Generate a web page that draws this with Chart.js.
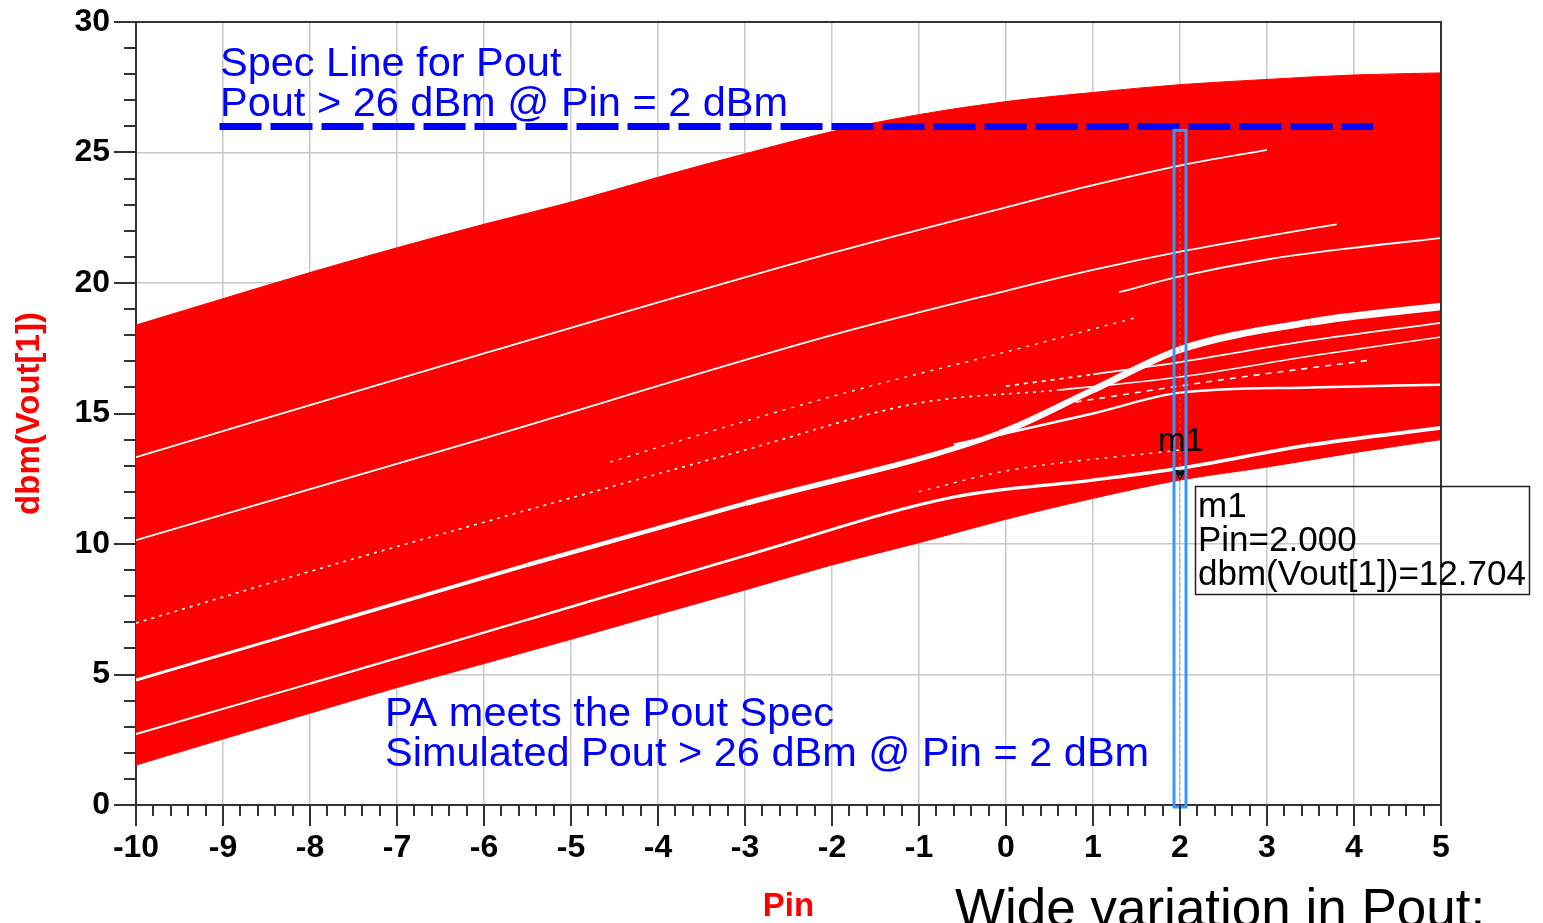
<!DOCTYPE html>
<html>
<head>
<meta charset="utf-8">
<script src="https://cdn.jsdelivr.net/npm/chart.js@4.4.1/dist/chart.umd.min.js"></script>
<style>
  html, body { margin: 0; padding: 0; background: #ffffff; }
  #wrap { position: relative; width: 1543px; height: 923px; }
</style>
</head>
<body>
<div id="wrap"><canvas id="c" width="1543" height="923"></canvas></div>
<script>
// Monte Carlo sweep of output power vs input power: envelope of all traces
const pinGrid = [-10, -9, -8, -7, -6, -5, -4, -3, -2, -1, 0, 1, 2, 3, 4, 5];
const poutMax = [18.39, 19.4, 20.4, 21.35, 22.25, 23.1, 24.05, 24.95, 25.8, 26.45, 26.95, 27.3, 27.6, 27.8, 27.97, 28.05];
const poutMin = [1.53, 2.53, 3.52, 4.5, 5.42, 6.35, 7.3, 8.24, 9.2, 10.05, 10.95, 11.75, 12.45, 12.95, 13.5, 14.0];

// Uncovered gaps between neighbouring traces, [Pin, Pout] pairs
const gapA  = [[-10, 13.33], [-6, 17.3], [-2, 21.15], [0, 22.9], [1, 23.75], [2, 24.5], [3, 25.1]];
const gapB  = [[-10, 10.15], [-6, 14.05], [-2, 18.0], [0, 19.7], [1, 20.5], [2, 21.2], [3, 21.8], [3.8, 22.25]];
const gapB2 = [[1.3, 19.65], [2, 20.25], [3, 20.9], [4, 21.35], [5, 21.72]];
const gapC  = [[-10, 6.97], [-8, 8.95], [-5.5, 11.3], [-3, 13.6], [-1, 15.4], [0.6, 15.9], [2, 16.4], [3.5, 17.2], [5, 17.93]];
const gapC3 = [[-4.55, 13.14], [-2.83, 14.87], [-1.5, 16.1], [-0.07, 17.3], [1.48, 18.66]];
const gapF  = [[0, 16.05], [1, 16.5], [2, 16.97], [3.5, 17.8], [5, 18.47]];
const gapD  = [[-10, 4.79], [-8, 6.75], [-5.5, 9.2], [-3, 11.55], [-0.07, 14.25], [1, 15.9], [2, 17.45], [3.5, 18.5], [5, 19.1]];
const gapD2 = [[-0.6, 13.8], [1, 15.0], [2, 15.8], [3.5, 16.0], [5, 16.1]];
const gapE  = [[-10, 2.72], [-8, 4.65], [-5.5, 7.1], [-3, 9.55], [-0.6, 11.8], [1, 12.45], [2, 12.9], [3.5, 13.8], [5, 14.45]];
const gapH  = [[0.8, 15.44], [2.5, 16.3], [4.2, 17.05]];
const gapK  = [[-1, 12.0], [0, 12.8], [2, 13.6]];

// Spec line and marker
const specPin = [-9.04, 4.22];
const specPout = [26, 26];
const markerPin = 2.0;
const markerPout = 12.704;

const xTickLabels = ['-10', '-9', '-8', '-7', '-6', '-5', '-4', '-3', '-2', '-1', '0', '1', '2', '3', '4', '5'];
const yTickLabels = ['0', '5', '10', '15', '20', '25', '30'];

const FONT = 'Liberation Sans, Arial, sans-serif';

function toPts(pairs) { return pairs.map(([x, y]) => ({ x, y })); }

function gapSet(pairs, width, dashBefore, dash, widthRight) {
  return {
    data: toPts(pairs),
    borderColor: '#ffffff',
    borderWidth: width,
    pointRadius: 0,
    fill: false,
    cubicInterpolationMode: 'monotone',
    order: 5,
    segment: {
      borderDash: c => (dashBefore != null && c.p1.parsed.x <= dashBefore) ? dash : undefined,
      borderWidth: c => widthRight ? width + (widthRight - width) * ((c.p0.parsed.x + 10) / 15) : width
    }
  };
}

const datasets = [
  {
    data: pinGrid.map((x, i) => ({ x, y: poutMax[i] })),
    borderColor: '#ff0000', backgroundColor: '#ff0000', borderWidth: 1,
    pointRadius: 0, fill: '+1', cubicInterpolationMode: 'monotone', order: 10
  },
  {
    data: pinGrid.map((x, i) => ({ x, y: poutMin[i] })),
    borderColor: '#ff0000', borderWidth: 1,
    pointRadius: 0, fill: false, cubicInterpolationMode: 'monotone', order: 11
  },
  gapSet(gapA, 1.8),
  gapSet(gapB, 1.8),
  gapSet(gapB2, 1.8, 1.9, [5, 4]),
  gapSet(gapC, 1.6, 0.6, [3, 5]),
  gapSet(gapC3, 1.4, 2, [3, 6]),
  gapSet(gapF, 1.8, 1.2, [4, 5]),
  gapSet(gapD, 3, null, null, 8),
  gapSet(gapD2, 2.5, 0, [4, 3]),
  gapSet(gapE, 2, null, null, 4),
  gapSet(gapH, 1.6, 5, [6, 6]),
  gapSet(gapK, 1.4, 5, [3, 6]),
  {
    data: specPin.map((x, i) => ({ x, y: specPout[i] })),
    borderColor: '#0000ff', borderWidth: 7, borderDash: [42, 9], borderCapStyle: 'butt',
    pointRadius: 0, fill: false, order: 1
  },
  {
    data: [{ x: markerPin, y: markerPout }],
    showLine: false, pointStyle: 'triangle', rotation: 180, pointRadius: 6,
    backgroundColor: '#111111', borderColor: '#111111', order: 0
  }
];

const decor = {
  id: 'decor',
  afterDatasetsDraw(chart) {
    const { ctx, chartArea: a, scales: { x, y } } = chart;
    ctx.save();
    // marker column
    const mx = x.getPixelForValue(markerPin);
    const yTop = y.getPixelForValue(specPout[0]) + 4;
    const yBot = y.getPixelForValue(0) + 2;
    ctx.strokeStyle = '#3399ff';
    ctx.lineWidth = 3;
    ctx.strokeRect(mx - 6, yTop, 12, yBot - yTop);
    ctx.setLineDash([2, 4]);
    ctx.lineWidth = 1;
    ctx.strokeStyle = '#8a9fc8';
    ctx.beginPath(); ctx.moveTo(mx, yTop + 3); ctx.lineTo(mx, yBot - 2); ctx.stroke();
    ctx.setLineDash([]);

    // plot frame: top and right
    ctx.strokeStyle = '#333333';
    ctx.lineWidth = 2;
    ctx.beginPath();
    ctx.moveTo(a.left - 22, a.top); ctx.lineTo(a.right, a.top); ctx.lineTo(a.right, a.bottom);
    ctx.stroke();

    // y ticks
    for (let v = 0; v <= 30; v++) {
      const py = Math.round(y.getPixelForValue(v));
      const len = v % 5 === 0 ? 22 : 12;
      ctx.beginPath(); ctx.moveTo(a.left - len, py); ctx.lineTo(a.left, py); ctx.stroke();
    }
    // x ticks
    for (let i = 0; i <= 75; i++) {
      const v = -10 + i * 0.2;
      const px = Math.round(x.getPixelForValue(v));
      const len = i % 5 === 0 ? 21 : 11;
      ctx.beginPath(); ctx.moveTo(px, a.bottom); ctx.lineTo(px, a.bottom + len); ctx.stroke();
    }

    // marker label
    const my = y.getPixelForValue(markerPout);
    ctx.fillStyle = '#000000';
    ctx.font = '33px ' + FONT;
    ctx.textBaseline = 'alphabetic';
    ctx.textAlign = 'center';
    ctx.fillText('m1', mx + 1, my - 22);

    // marker readout
    ctx.textAlign = 'left';
    ctx.lineWidth = 1.5;
    ctx.strokeStyle = '#222222';
    ctx.strokeRect(1195.5, 486.5, 334, 108);
    ctx.font = '35px ' + FONT;
    ctx.fillText('m1', 1198, 517);
    ctx.fillText('Pin=' + markerPin.toFixed(3), 1198, 551);
    ctx.fillText('dbm(Vout[1])=' + markerPout.toFixed(3), 1198, 585);

    // annotations
    ctx.fillStyle = '#0000ff';
    ctx.font = '41.5px ' + FONT;
    ctx.fillText('Spec Line for Pout', 220, 76);
    ctx.fillText('Pout > 26 dBm @ Pin = 2 dBm', 220, 116);
    ctx.fillText('PA meets the Pout Spec', 385, 726);
    ctx.fillText('Simulated Pout > 26 dBm @ Pin = 2 dBm', 385, 766);

    ctx.fillStyle = '#000000';
    ctx.font = '53px ' + FONT;
    ctx.fillText('Wide variation in Pout:', 955, 926);
    ctx.restore();
  }
};

new Chart(document.getElementById('c'), {
  type: 'line',
  data: { datasets },
  options: {
    responsive: false,
    animation: false,
    devicePixelRatio: 1,
    layout: { padding: { top: 22, right: 102, left: 0, bottom: 0 } },
    plugins: { legend: { display: false }, tooltip: { enabled: false } },
    scales: {
      x: {
        type: 'linear', min: -10, max: 5, position: 'bottom',
        afterFit: s => { s.height = 118; s.paddingLeft = 0; s.paddingRight = 0; },
        afterBuildTicks: s => { s.ticks = xTickLabels.map(t => ({ value: Number(t) })); },
        ticks: {
          padding: 24, color: '#000000', maxRotation: 0, autoSkip: false,
          font: { family: FONT, size: 32, weight: 'bold' },
          callback: (v, i) => xTickLabels[i]
        },
        grid: { color: '#c8c8c8', lineWidth: 1.5, drawTicks: false },
        border: { display: true, color: '#333333', width: 2 },
        title: {
          display: true, text: 'Pin', color: '#ff0000',
          font: { family: FONT, size: 33, weight: 'bold' },
          padding: { top: 0, bottom: -4 }
        }
      },
      y: {
        type: 'linear', min: 0, max: 30,
        afterFit: s => { s.width = 136; s.paddingTop = 0; s.paddingBottom = 0; },
        afterBuildTicks: s => { s.ticks = yTickLabels.map(t => ({ value: Number(t) })); },
        ticks: {
          padding: 26, color: '#000000',
          font: { family: FONT, size: 32, weight: 'bold' },
          callback: (v, i) => yTickLabels[i]
        },
        grid: { color: '#c8c8c8', lineWidth: 1.5, drawTicks: false },
        border: { display: true, color: '#333333', width: 2 },
        title: {
          display: true, text: 'dbm(Vout[1])', color: '#ff0000',
          font: { family: FONT, size: 33, weight: 'bold' },
          padding: { top: 10, bottom: 0 }
        }
      }
    }
  },
  plugins: [decor]
});
</script>
</body>
</html>
